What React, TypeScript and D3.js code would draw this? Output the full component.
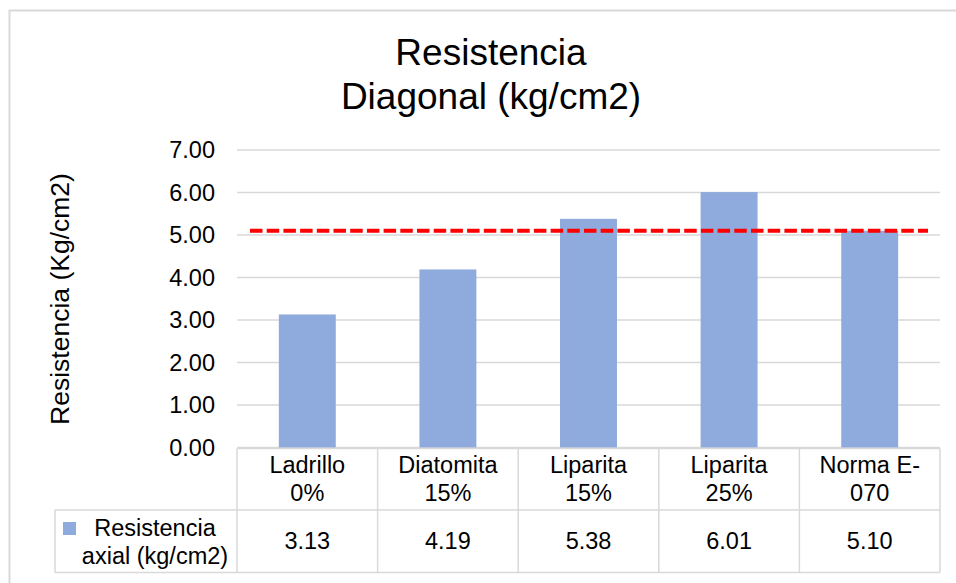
import React from "react";
import * as d3 from "d3";

const categories: string[][] = [
  ["Ladrillo", "0%"],
  ["Diatomita", "15%"],
  ["Liparita", "15%"],
  ["Liparita", "25%"],
  ["Norma E-", "070"],
];
const values: number[] = [3.13, 4.19, 5.38, 6.01, 5.1];
const limitValue = 5.1;
const yTicks: number[] = [0, 1, 2, 3, 4, 5, 6, 7];
const titleLines = ["Resistencia", "Diagonal (kg/cm2)"];
const yTitle = "Resistencia (Kg/cm2)";
const seriesNameLines = ["Resistencia", "axial (kg/cm2)"];

const W = 956;
const H = 583;
const FONT = "'Liberation Sans', Arial, sans-serif";
const GRID = "#d9d9d9";
const BAR = "#8FAADC";

export default function App() {
  const plotL = 237;
  const plotR = 940;
  const plotT = 150;
  const plotB = 447.5;
  const x = d3
    .scaleBand<number>()
    .domain(categories.map((_, i) => i))
    .range([plotL, plotR])
    .paddingInner(0)
    .paddingOuter(0);
  const y = d3.scaleLinear().domain([0, 7]).range([plotB, plotT]);
  const bw = x.bandwidth();
  const barW = bw * 0.405;
  const fmt = d3.format(".2f");

  const hdrTop = 448.5;
  const hdrBot = 510;
  const rowBot = 572.5;
  const legL = 55;

  return (
    <svg
      width={W}
      height={H}
      style={{ position: "absolute", left: 0, top: 0, background: "#fff" }}
      fontFamily={FONT}
    >
      <rect x={0} y={0} width={W} height={H} fill="#fff" />
      {/* chart frame (left & top visible) */}
      <path d={`M9.5,${H + 5} V10.5 H${W + 5}`} fill="none" stroke={GRID} strokeWidth={2} />

      {/* title */}
      <text x={491} textAnchor="middle" fontSize={37} fill="#000">
        <tspan x={491} y={65}>{titleLines[0]}</tspan>
        <tspan x={491} y={109}>{titleLines[1]}</tspan>
      </text>

      {/* gridlines */}
      {yTicks.map((t) => (
        <line
          key={"g" + t}
          x1={plotL}
          x2={plotR}
          y1={y(t)}
          y2={y(t)}
          stroke={GRID}
          strokeWidth={1.5}
        />
      ))}
      {/* tick labels */}
      {yTicks.map((t) => (
        <text
          key={"t" + t}
          x={215}
          y={y(t)}
          dy="0.35em"
          textAnchor="end"
          fontSize={23.5}
          fill="#000"
        >
          {fmt(t)}
        </text>
      ))}
      {/* y title */}
      <text
        transform={`translate(69,299) rotate(-90)`}
        textAnchor="middle"
        fontSize={26.5}
        fill="#000"
      >
        {yTitle}
      </text>

      {/* bars */}
      {values.map((v, i) => (
        <rect
          key={"b" + i}
          x={(x(i) as number) + (bw - barW) / 2}
          y={y(v)}
          width={barW}
          height={y(0) - y(v)}
          fill={BAR}
        />
      ))}

      {/* limit line */}
      <line
        x1={plotL + 13}
        x2={plotR - 12}
        y1={y(limitValue)}
        y2={y(limitValue)}
        stroke="#FF0000"
        strokeWidth={4}
        strokeDasharray="12.5 4.2"
      />

      {/* data table */}
      <g fill="none" stroke={GRID} strokeWidth={1.5}>
        <line x1={plotL} x2={plotR} y1={hdrTop} y2={hdrTop} />
        <line x1={legL} x2={plotR} y1={hdrBot} y2={hdrBot} />
        <line x1={legL} x2={plotR} y1={rowBot} y2={rowBot} />
        <line x1={legL} x2={legL} y1={hdrBot} y2={rowBot} />
        {categories.map((_, i) => (
          <line
            key={"v" + i}
            x1={x(i) as number}
            x2={x(i) as number}
            y1={hdrTop}
            y2={rowBot}
          />
        ))}
        <line x1={plotR} x2={plotR} y1={hdrTop} y2={rowBot} />
      </g>
      {categories.map((lines, i) => (
        <text
          key={"c" + i}
          textAnchor="middle"
          fontSize={23.5}
          fill="#000"
        >
          {lines.map((l, j) => (
            <tspan key={j} x={(x(i) as number) + bw / 2} y={473 + j * 28}>
              {l}
            </tspan>
          ))}
        </text>
      ))}
      {values.map((v, i) => (
        <text
          key={"d" + i}
          x={(x(i) as number) + bw / 2}
          y={548.5}
          textAnchor="middle"
          fontSize={23.5}
          fill="#000"
        >
          {fmt(v)}
        </text>
      ))}
      {/* legend */}
      <rect x={63} y={522} width={13} height={13} fill={BAR} />
      <text textAnchor="middle" fontSize={23.5} fill="#000">
        {seriesNameLines.map((l, j) => (
          <tspan key={j} x={155} y={535.5 + j * 28}>
            {l}
          </tspan>
        ))}
      </text>
    </svg>
  );
}
